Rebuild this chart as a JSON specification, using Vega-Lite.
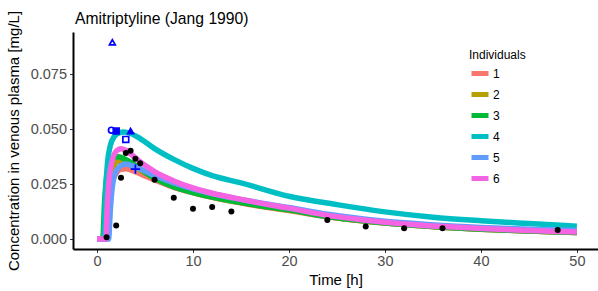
{
  "$schema": "https://vega.github.io/schema/vega-lite/v6.json",
  "width": 525,
  "height": 217,
  "autosize": {"type": "none"},
  "padding": {"left": 73, "top": 32, "right": 0, "bottom": 42},
  "background": "white",
  "title": {"text": "Amitriptyline (Jang 1990)", "anchor": "start", "frame": "group", "offset": 7, "dy": 24, "dx": 2, "fontSize": 15.7, "font": "Liberation Sans", "fontWeight": "normal", "color": "black"},
  "datasets": {
    "sim": [
      {"id":"1","t":0,"c":0},{"id":"1","t":1.0,"c":0},{"id":"1","t":1.2,"c":0.014},{"id":"1","t":1.5,"c":0.024},{"id":"1","t":2,"c":0.030},{"id":"1","t":2.5,"c":0.0318},{"id":"1","t":3,"c":0.032},{"id":"1","t":4,"c":0.0307},{"id":"1","t":5,"c":0.0287},{"id":"1","t":6,"c":0.027},{"id":"1","t":8,"c":0.0236},{"id":"1","t":10,"c":0.0211},{"id":"1","t":12,"c":0.019},{"id":"1","t":14,"c":0.0172},{"id":"1","t":17,"c":0.015},{"id":"1","t":20,"c":0.013},{"id":"1","t":24,"c":0.0102},{"id":"1","t":28,"c":0.0081},{"id":"1","t":32,"c":0.0066},{"id":"1","t":36,"c":0.0054},{"id":"1","t":40,"c":0.0045},{"id":"1","t":45,"c":0.0037},{"id":"1","t":50,"c":0.003},
      {"id":"2","t":0,"c":0},{"id":"2","t":0.8,"c":0},{"id":"2","t":1.0,"c":0.016},{"id":"2","t":1.3,"c":0.027},{"id":"2","t":1.7,"c":0.033},{"id":"2","t":2.2,"c":0.0355},{"id":"2","t":3,"c":0.0352},{"id":"2","t":4,"c":0.0328},{"id":"2","t":5,"c":0.0302},{"id":"2","t":6,"c":0.028},{"id":"2","t":8,"c":0.0242},{"id":"2","t":10,"c":0.0214},{"id":"2","t":12,"c":0.0192},{"id":"2","t":14,"c":0.0174},{"id":"2","t":17,"c":0.0152},{"id":"2","t":20,"c":0.0132},{"id":"2","t":24,"c":0.0103},{"id":"2","t":28,"c":0.0082},{"id":"2","t":32,"c":0.0066},{"id":"2","t":36,"c":0.0054},{"id":"2","t":40,"c":0.0045},{"id":"2","t":45,"c":0.0037},{"id":"2","t":50,"c":0.003},
      {"id":"3","t":0,"c":0},{"id":"3","t":0.6,"c":0},{"id":"3","t":0.8,"c":0.018},{"id":"3","t":1.0,"c":0.028},{"id":"3","t":1.3,"c":0.034},{"id":"3","t":1.7,"c":0.037},{"id":"3","t":2.2,"c":0.0375},{"id":"3","t":3,"c":0.0362},{"id":"3","t":4,"c":0.0336},{"id":"3","t":5,"c":0.0305},{"id":"3","t":6,"c":0.0278},{"id":"3","t":8,"c":0.0238},{"id":"3","t":10,"c":0.0212},{"id":"3","t":12,"c":0.0191},{"id":"3","t":14,"c":0.0174},{"id":"3","t":17,"c":0.0152},{"id":"3","t":20,"c":0.0133},{"id":"3","t":24,"c":0.0103},{"id":"3","t":28,"c":0.0082},{"id":"3","t":32,"c":0.0066},{"id":"3","t":36,"c":0.0054},{"id":"3","t":40,"c":0.0045},{"id":"3","t":45,"c":0.0037},{"id":"3","t":50,"c":0.003},
      {"id":"4","t":0,"c":0},{"id":"4","t":0.7,"c":0},{"id":"4","t":0.9,"c":0.022},{"id":"4","t":1.1,"c":0.035},{"id":"4","t":1.4,"c":0.0428},{"id":"4","t":1.8,"c":0.0467},{"id":"4","t":2.3,"c":0.0484},{"id":"4","t":2.8,"c":0.0488},{"id":"4","t":3.5,"c":0.0481},{"id":"4","t":4.5,"c":0.0458},{"id":"4","t":6,"c":0.0412},{"id":"4","t":8,"c":0.0363},{"id":"4","t":10,"c":0.0322},{"id":"4","t":12,"c":0.0289},{"id":"4","t":15,"c":0.0256},{"id":"4","t":20,"c":0.0195},{"id":"4","t":25,"c":0.0157},{"id":"4","t":30,"c":0.0124},{"id":"4","t":35,"c":0.01},{"id":"4","t":40,"c":0.0084},{"id":"4","t":45,"c":0.0071},{"id":"4","t":50,"c":0.0059},
      {"id":"5","t":0,"c":0},{"id":"5","t":1.2,"c":0},{"id":"5","t":1.4,"c":0.014},{"id":"5","t":1.6,"c":0.024},{"id":"5","t":2,"c":0.031},{"id":"5","t":2.5,"c":0.0335},{"id":"5","t":3,"c":0.0342},{"id":"5","t":4,"c":0.0328},{"id":"5","t":5,"c":0.0309},{"id":"5","t":6,"c":0.029},{"id":"5","t":8,"c":0.0256},{"id":"5","t":10,"c":0.0229},{"id":"5","t":12,"c":0.0207},{"id":"5","t":14,"c":0.0189},{"id":"5","t":17,"c":0.0165},{"id":"5","t":20,"c":0.0144},{"id":"5","t":24,"c":0.0113},{"id":"5","t":28,"c":0.0091},{"id":"5","t":32,"c":0.0074},{"id":"5","t":36,"c":0.0062},{"id":"5","t":40,"c":0.0053},{"id":"5","t":45,"c":0.0045},{"id":"5","t":50,"c":0.0039},
      {"id":"6","t":0,"c":0},{"id":"6","t":0.9,"c":0},{"id":"6","t":1.1,"c":0.018},{"id":"6","t":1.3,"c":0.029},{"id":"6","t":1.6,"c":0.036},{"id":"6","t":2,"c":0.04},{"id":"6","t":2.5,"c":0.0412},{"id":"6","t":3,"c":0.0405},{"id":"6","t":4,"c":0.037},{"id":"6","t":4.5,"c":0.0352},{"id":"6","t":5,"c":0.0336},{"id":"6","t":6,"c":0.0307},{"id":"6","t":8,"c":0.0265},{"id":"6","t":10,"c":0.0233},{"id":"6","t":12,"c":0.0209},{"id":"6","t":14,"c":0.019},{"id":"6","t":17,"c":0.0164},{"id":"6","t":20,"c":0.0141},{"id":"6","t":24,"c":0.0108},{"id":"6","t":28,"c":0.0086},{"id":"6","t":32,"c":0.0069},{"id":"6","t":36,"c":0.0057},{"id":"6","t":40,"c":0.0048},{"id":"6","t":45,"c":0.0039},{"id":"6","t":50,"c":0.0032}
    ],
    "obs": [
      {"t":1,"c":0.0008},{"t":2,"c":0.0062},{"t":2.5,"c":0.0279},{"t":3,"c":0.0392},{"t":3.5,"c":0.0402},{"t":4,"c":0.0366},{"t":4.5,"c":0.0345},{"t":6,"c":0.027},{"t":8,"c":0.0188},{"t":10,"c":0.0138},{"t":12,"c":0.0146},{"t":14,"c":0.0126},{"t":24,"c":0.0087},{"t":28,"c":0.0058},{"t":32,"c":0.0049},{"t":36,"c":0.0049},{"t":48,"c":0.0042}
    ],
    "marks": [
      {"t":1.5,"c":0.0496,"marker":"open circle"},
      {"t":2.0,"c":0.0492,"marker":"filled square"},
      {"t":3.5,"c":0.0492,"marker":"filled triangle"},
      {"t":3.0,"c":0.0454,"marker":"open square"},
      {"t":4.0,"c":0.0319,"marker":"plus"},
      {"t":1.6,"c":0.0896,"marker":"open triangle"}
    ]
  },
  "encoding": {
    "x": {"field": "t", "type": "quantitative", "scale": {"domain": [-2.5, 52.2], "nice": false, "zero": false},
      "axis": {"title": "Time [h]", "values": [0, 10, 20, 30, 40, 50]}},
    "y": {"field": "c", "type": "quantitative", "scale": {"domain": [-0.0045, 0.0943], "nice": false, "zero": false},
      "axis": {"title": "Concentration in venous plasma [mg/L]", "values": [0, 0.025, 0.05, 0.075], "format": ".3f"}}
  },
  "layer": [
    {
      "data": {"name": "sim"},
      "mark": {"type": "line", "strokeWidth": 5.5, "interpolate": "monotone", "strokeCap": "butt"},
      "encoding": {
        "color": {"field": "id", "type": "nominal",
          "scale": {"domain": ["1","2","3","4","5","6"], "range": ["#F8766D","#B79F00","#00BA38","#00BFC4","#619CFF","#F564E3"]},
          "legend": {"title": "Individuals", "orient": "none", "legendX": 396, "legendY": 18, "symbolType": "stroke", "symbolSize": 289, "symbolStrokeWidth": 5, "rowPadding": -1.3, "titlePadding": 0.5, "labelOffset": 2, "padding": 0}}
      }
    },
    {
      "data": {"name": "obs"},
      "mark": {"type": "circle", "size": 36, "color": "black", "opacity": 1}
    },
    {
      "data": {"name": "marks"},
      "mark": {"type": "point", "size": 34, "stroke": "#0000FF", "strokeWidth": 1.7, "opacity": 1},
      "encoding": {
        "shape": {"field": "marker", "type": "nominal", "legend": null,
          "scale": {"domain": ["open circle","filled square","filled triangle","open square","plus","open triangle"],
                    "range": ["circle","square","triangle-up","square","M-1.6,0H1.6M0,-1.6V1.6","triangle-up"]}},
        "fill": {"field": "marker", "type": "nominal", "legend": null,
          "scale": {"domain": ["open circle","filled square","filled triangle","open square","plus","open triangle"],
                    "range": ["transparent","#0000FF","#0000FF","transparent","transparent","transparent"]}}
      }
    }
  ],
  "config": {
    "view": {"stroke": null},
    "font": "Liberation Sans",
    "axis": {"grid": false, "domainColor": "black", "domainWidth": 2, "tickColor": "#333333", "tickWidth": 1, "tickSize": 3.5,
      "labelColor": "#4D4D4D", "labelFontSize": 14.5, "labelFont": "Liberation Sans", "titleFont": "Liberation Sans", "titleFontSize": 15, "titleFontWeight": "normal", "titleColor": "black"},
    "axisX": {"labelPadding": 2, "titlePadding": 4},
    "axisY": {"labelPadding": 3, "titlePadding": 9},
    "legend": {"titleFontSize": 12, "titleFontWeight": "normal", "titleColor": "black", "labelFontSize": 12, "labelColor": "black", "titleFont": "Liberation Sans", "labelFont": "Liberation Sans"}
  }
}
